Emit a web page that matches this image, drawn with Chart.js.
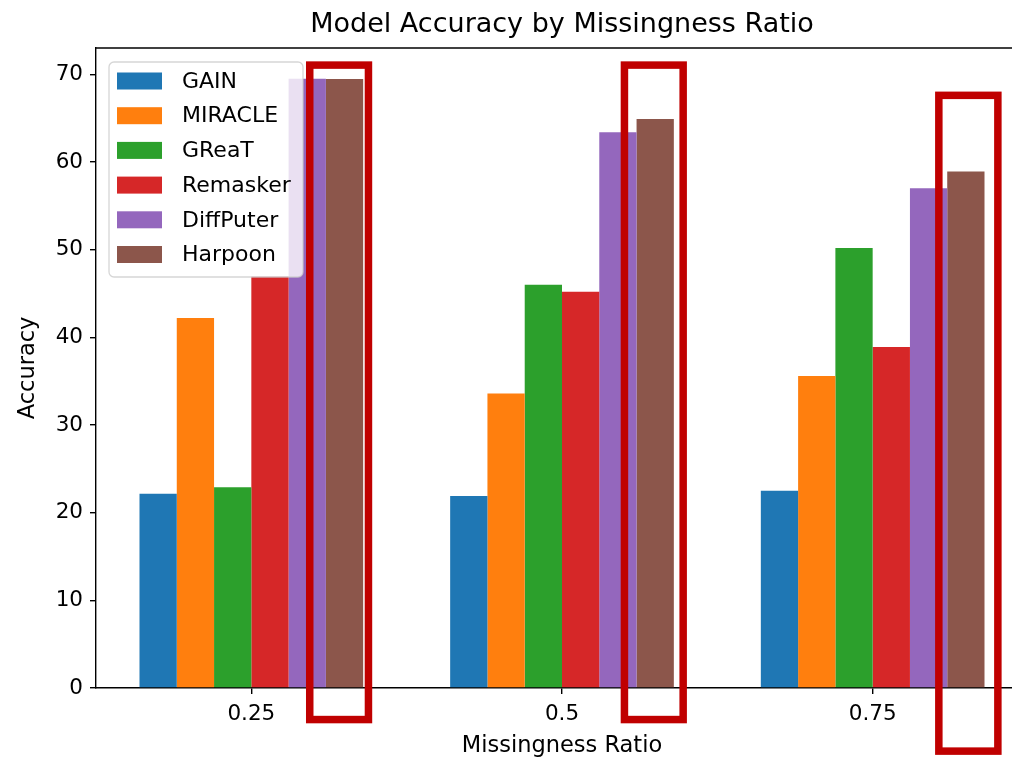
<!DOCTYPE html>
<html>
<head>
<meta charset="utf-8">
<script src="https://cdn.jsdelivr.net/npm/chart.js@4/dist/chart.umd.min.js"></script>
<style>
  html, body { margin: 0; padding: 0; background: #ffffff; overflow: hidden; }
  #wrap { width: 1040px; height: 759px; position: relative; }
</style>
</head>
<body>
<div id="wrap"><canvas id="chart"></canvas></div>
<script>
// Missingness ratios (x categories) and accuracy per model
const ratios    = ['0.25', '0.5', '0.75'];
const gain      = [22.15, 21.9, 22.5];
const miracle   = [42.2, 33.6, 35.6];
const great     = [22.9, 46.0, 50.2];
const remasker  = [47.0, 45.2, 38.9];
const diffputer = [69.5, 63.4, 57.0];
const harpoon   = [69.45, 64.9, 58.9];
const models    = ['GAIN', 'MIRACLE', 'GReaT', 'Remasker', 'DiffPuter', 'Harpoon'];
const yTicks    = [0, 10, 20, 30, 40, 50, 60, 70];

const palette = ['#1f77b4', '#ff7f0e', '#2ca02c', '#d62728', '#9467bd', '#8c564b'];
const series = [gain, miracle, great, remasker, diffputer, harpoon];

// Hand-drawn emphasis boxes around the Harpoon bars (category index, offsets in
// category widths from the category centre, vertical extent in axis units)
const highlightBoxes = [
  { cat: 0, left: 0.188, right: 0.377, top: 71.05, bottom: -3.6 },
  { cat: 1, left: 0.201, right: 0.390, top: 71.05, bottom: -3.6 },
  { cat: 2, left: 0.213, right: 0.403, top: 67.60, bottom: -7.2 }
];

const FONT = '"DejaVu Sans", "Liberation Sans", sans-serif';

const decorations = {
  id: 'decorations',
  afterDatasetsDraw(chart) {
    const { ctx, chartArea: a, scales } = chart;
    ctx.save();

    // top spine
    ctx.strokeStyle = '#000';
    ctx.lineWidth = 1.4;
    ctx.beginPath();
    ctx.moveTo(a.left, a.top);
    ctx.lineTo(a.right, a.top);
    ctx.stroke();

    // title
    ctx.fillStyle = '#000';
    ctx.font = '27px ' + FONT;
    ctx.textAlign = 'center';
    ctx.textBaseline = 'middle';
    ctx.fillText('Model Accuracy by Missingness Ratio', (a.left + a.right) / 2, 25);

    // axis titles
    ctx.font = '22.5px ' + FONT;
    ctx.fillText('Missingness Ratio', (a.left + a.right) / 2, 746);
    ctx.save();
    ctx.translate(28, (a.top + a.bottom) / 2);
    ctx.rotate(-Math.PI / 2);
    ctx.fillText('Accuracy', 0, 0);
    ctx.restore();

    // legend
    const lx = a.left + 13, ly = a.top + 14, lw = 194, lh = 215, r = 5;
    ctx.beginPath();
    ctx.moveTo(lx + r, ly);
    ctx.arcTo(lx + lw, ly, lx + lw, ly + lh, r);
    ctx.arcTo(lx + lw, ly + lh, lx, ly + lh, r);
    ctx.arcTo(lx, ly + lh, lx, ly, r);
    ctx.arcTo(lx, ly, lx + lw, ly, r);
    ctx.closePath();
    ctx.fillStyle = 'rgba(255,255,255,0.8)';
    ctx.fill();
    ctx.strokeStyle = 'rgba(204,204,204,0.8)';
    ctx.lineWidth = 1.3;
    ctx.stroke();

    ctx.font = '22px ' + FONT;
    ctx.textAlign = 'left';
    chart.data.datasets.forEach((ds, i) => {
      const cy = ly + 19 + i * 34.7;
      ctx.fillStyle = ds.backgroundColor;
      ctx.fillRect(lx + 8, cy - 8.5, 45, 17);
      ctx.fillStyle = '#000';
      ctx.fillText(ds.label, lx + 73, cy + 1);
    });

    // emphasis boxes
    const xs = scales.x, ys = scales.y;
    const catW = xs.width / ratios.length;
    ctx.strokeStyle = '#c00000';
    ctx.lineWidth = 7.5;
    ctx.lineJoin = 'miter';
    highlightBoxes.forEach(b => {
      const c = xs.getPixelForValue(b.cat);
      const x0 = c + b.left * catW, x1 = c + b.right * catW;
      const y0 = ys.getPixelForValue(b.top), y1 = ys.getPixelForValue(b.bottom);
      ctx.strokeRect(x0, y0, x1 - x0, y1 - y0);
    });

    ctx.restore();
  }
};

new Chart(document.getElementById('chart'), {
  type: 'bar',
  data: {
    labels: ratios,
    datasets: models.map((m, i) => ({
      label: m,
      data: series[i],
      backgroundColor: palette[i],
      borderWidth: 0,
      categoryPercentage: 0.72,
      barPercentage: 1.0
    }))
  },
  options: {
    responsive: true,
    maintainAspectRatio: false,
    animation: false,
    layout: { padding: { top: 48, left: 0, right: 12, bottom: 0 } },
    plugins: { legend: { display: false }, title: { display: false }, tooltip: { enabled: false } },
    scales: {
      x: {
        afterFit(s) { s.height = 71; },
        grid: { display: true, drawOnChartArea: false, offset: false, tickLength: 6, color: '#000', lineWidth: 1.4 },
        border: { display: true, color: '#000', width: 1.4 },
        ticks: { color: '#000', font: { family: FONT, size: 21.5 }, padding: 8, maxRotation: 0 }
      },
      y: {
        min: 0,
        max: 73.0,
        afterFit(s) { s.width = 96; },
        afterBuildTicks(s) { s.ticks = yTicks.map(v => ({ value: v })); },
        grid: { display: true, drawOnChartArea: false, tickLength: 6, color: '#000', lineWidth: 1.4 },
        border: { display: true, color: '#000', width: 1.4 },
        ticks: { color: '#000', font: { family: FONT, size: 21.5 }, padding: 7 }
      }
    }
  },
  plugins: [decorations]
});
</script>
</body>
</html>
